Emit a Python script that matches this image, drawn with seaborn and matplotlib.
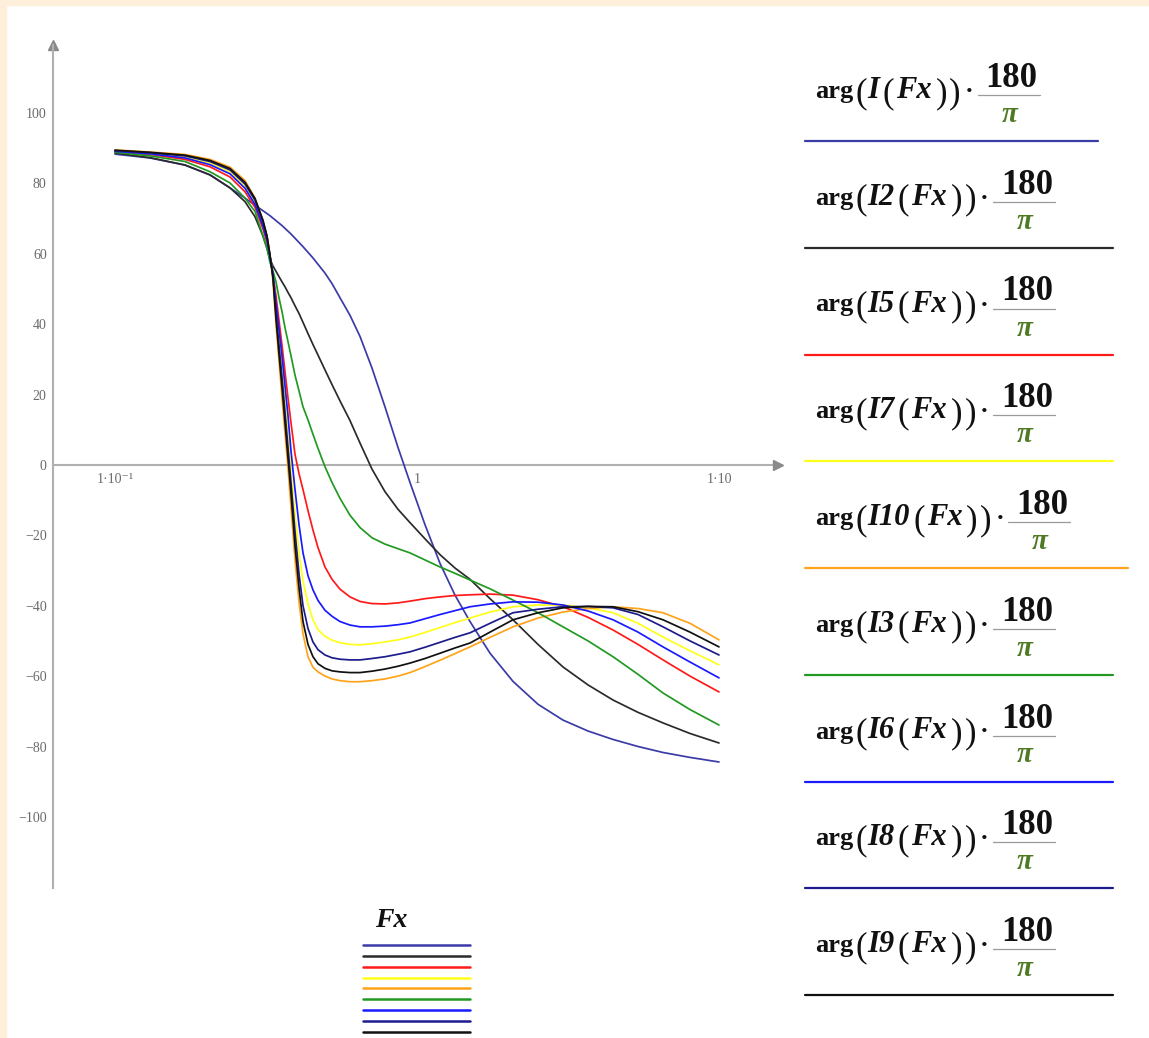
import numpy as np
import pandas as pd
import matplotlib
matplotlib.use("Agg")
import matplotlib.pyplot as plt
import seaborn as sns
from matplotlib.lines import Line2D
from matplotlib.patches import Rectangle
from matplotlib.ticker import FixedLocator, NullFormatter

# ---------------- data ----------------
freq = [0.1, 0.1306, 0.1705, 0.2063, 0.2404, 0.2694, 0.2908, 0.3091, 0.3187, 0.3261,
        0.3336, 0.3413, 0.3492, 0.3573, 0.3655, 0.3740, 0.3826, 0.3945, 0.4068, 0.4193,
        0.4356, 0.4524, 0.4701, 0.4958, 0.5232, 0.5559, 0.6000, 0.6476, 0.7096, 0.7834,
        0.8649, 0.9481, 1.063, 1.192, 1.336, 1.498, 1.745, 2.079, 2.516, 3.044,
        3.683, 4.458, 5.393, 6.525, 8.016, 10.0]

phase_I = [88.3, 87.2, 85.2, 82.4, 78.7, 75.8, 73.8, 72.2, 71.4, 70.8,
           70.1, 69.4, 68.7, 68.0, 67.2, 66.4, 65.6, 64.4, 63.2, 62.0,
           60.4, 58.8, 57.0, 54.5, 51.5, 47.5, 42.5, 36.5, 27.5, 16.5,
           5.0, -5.0, -17.0, -28.0, -37.0, -44.5, -53.5, -61.5, -68.0, -72.5,
           -75.6, -78.0, -80.0, -81.7, -83.1, -84.4]
phase_I2 = [88.6, 87.3, 85.2, 82.4, 78.7, 74.8, 70.5, 65.0, 61.5, 58.5,
            56.5, 55.0, 53.5, 52.0, 50.6, 49.0, 47.5, 45.2, 43.0, 40.5,
            37.3, 34.2, 31.2, 27.0, 22.8, 18.2, 12.6, 6.2, -1.2, -7.6,
            -12.6, -16.4, -21.0, -25.5, -29.3, -32.5, -38.0, -44.0, -51.0, -57.4,
            -62.5, -66.8, -70.3, -73.3, -76.3, -79.0]
phase_I3 = [88.8, 87.8, 86.2, 83.3, 80.1, 75.8, 72.0, 65.0, 61.5, 57.5,
            55.0, 52.0, 47.5, 43.5, 39.0, 35.0, 31.0, 25.5, 21.0, 16.5,
            12.8, 8.7, 4.7, -0.5, -5.0, -9.5, -14.3, -17.8, -20.7, -22.5,
            -23.8, -25.0, -27.0, -29.0, -30.8, -32.7, -35.2, -38.4, -42.0, -46.0,
            -50.0, -54.5, -59.5, -64.8, -69.5, -73.9]
phase_I5 = [89.0, 88.2, 86.8, 84.7, 81.8, 77.6, 73.2, 67.0, 63.2, 59.0,
            54.0, 48.0, 41.0, 34.0, 26.5, 19.0, 12.0, 3.0, -2.5, -7.0,
            -13.0, -18.5, -23.5, -29.0, -32.5, -35.3, -37.5, -38.8, -39.4, -39.5,
            -39.2, -38.7, -38.0, -37.5, -37.1, -36.9, -36.7, -37.0, -38.3, -40.3,
            -43.3, -46.9, -51.0, -55.4, -60.0, -64.5]
phase_I6 = [89.1, 88.4, 87.2, 85.3, 82.7, 78.6, 74.0, 67.8, 63.8, 59.2,
            54.0, 46.0, 38.5, 31.0, 22.5, 14.0, 4.0, -7.0, -17.0, -25.0,
            -31.5, -35.5, -38.5, -41.3, -43.0, -44.5, -45.5, -46.0, -46.0, -45.8,
            -45.4, -44.9, -43.7, -42.5, -41.4, -40.3, -39.5, -38.9, -39.0, -39.8,
            -41.5, -44.0, -47.5, -51.7, -56.0, -60.5]
phase_I7 = [89.2, 88.5, 87.5, 85.8, 83.3, 79.2, 74.6, 68.4, 64.3, 59.3,
            54.0, 44.5, 36.5, 29.0, 19.0, 9.0, -1.0, -14.0, -25.0, -33.0,
            -39.5, -44.0, -46.8, -48.7, -49.8, -50.5, -51.0, -51.1, -50.8, -50.3,
            -49.7, -48.9, -47.6, -46.2, -44.8, -43.5, -41.8, -40.3, -39.8, -39.8,
            -40.6, -42.0, -45.0, -48.9, -52.8, -56.8]
phase_I8 = [89.3, 88.7, 87.8, 86.2, 83.8, 79.8, 75.2, 69.0, 64.8, 59.4,
            53.5, 43.0, 34.0, 25.0, 15.0, 5.0, -5.0, -19.0, -31.0, -40.0,
            -46.5, -50.3, -52.5, -54.0, -54.8, -55.2, -55.4, -55.4, -55.0, -54.5,
            -53.8, -53.1, -51.8, -50.4, -49.0, -47.7, -45.0, -42.0, -41.0, -40.3,
            -40.2, -40.6, -42.5, -46.0, -50.0, -54.0]
phase_I9 = [89.4, 88.8, 88.0, 86.5, 84.2, 80.3, 75.7, 69.5, 65.0, 59.5,
            53.0, 41.5, 31.5, 22.0, 12.0, 2.0, -8.0, -23.0, -35.0, -44.5,
            -51.0, -54.5, -56.5, -57.8, -58.5, -58.8, -59.0, -59.0, -58.6, -58.0,
            -57.2, -56.3, -55.0, -53.5, -52.0, -50.6, -47.5, -44.0, -42.0, -40.6,
            -40.2, -40.3, -41.7, -44.0, -47.5, -51.7]
phase_I10 = [89.5, 88.9, 88.2, 86.8, 84.6, 80.8, 75.8, 69.3, 65.0, 59.5,
             52.0, 40.0, 29.5, 19.0, 9.0, -1.0, -12.0, -27.0, -39.0, -48.0,
             -54.5, -57.5, -58.8, -60.0, -60.8, -61.3, -61.6, -61.6, -61.3, -60.8,
             -60.0, -59.0, -57.3, -55.5, -53.6, -51.7, -49.0, -46.0, -43.5, -41.8,
             -40.8, -40.3, -40.8, -42.0, -45.0, -49.7]

series_names = ["I", "I2", "I5", "I7", "I10", "I3", "I6", "I8", "I9"]
series_values = [phase_I, phase_I2, phase_I5, phase_I7, phase_I10, phase_I3, phase_I6, phase_I8, phase_I9]
series_colors = ["#3b3ba8", "#2b2b2b", "#ff1a1a", "#ffff1a", "#ffa31a", "#229922", "#1a1aff", "#1c1c8c", "#111111"]

y_ticks = [-100, -80, -60, -40, -20, 0, 20, 40, 60, 80, 100]
x_ticks = [0.1, 1, 10]
x_tick_labels = ["1·10⁻¹", "1", "1·10"]
x_minor = [0.2, 0.3, 0.4, 0.5, 0.6, 0.7, 0.8, 0.9, 2, 3, 4, 5, 6, 7, 8, 9]

# ---------------- style ----------------
sns.set_theme(style="white")
SERIF = ["Liberation Serif", "DejaVu Serif"]
plt.rcParams["font.family"] = SERIF
plt.rcParams["axes.unicode_minus"] = True

W, H = 1149, 1038
fig = plt.figure(figsize=(W / 100, H / 100), dpi=100, facecolor="white")

def fx(px):
    return px / W

def fy(py):
    return 1 - py / H

# cream frame at top / left
cream = "#fdefd9"
fig.patches.append(Rectangle((0, fy(5)), 1, 5 / H, transform=fig.transFigure, color=cream, zorder=0))
fig.patches.append(Rectangle((0, 0), 6 / W, 1, transform=fig.transFigure, color=cream, zorder=0))

ax = fig.add_axes([53 / W, 1 - 888 / H, 725 / W, 843 / H])
ax.set_facecolor("none")

df = pd.DataFrame({
    "Fx": np.tile(freq, len(series_names)),
    "phase": np.concatenate(series_values),
    "series": np.repeat(series_names, len(freq)),
})
sns.lineplot(data=df, x="Fx", y="phase", hue="series", hue_order=series_names,
             palette=series_colors, estimator=None, sort=False, legend=False,
             linewidth=1.25, ax=ax)

ax.set_xscale("log")
ax.set_xlim(10 ** (-1 - 62 / 302), 10 ** (-1 + 663 / 302))
ax.set_ylim(-120.2, 119.3)
ax.set_xlabel("")
ax.set_ylabel("")

axis_gray = "#b0b0b0"
for s in ["top", "right"]:
    ax.spines[s].set_visible(False)
ax.spines["left"].set_color(axis_gray)
ax.spines["left"].set_linewidth(1.5)
ax.spines["bottom"].set_color(axis_gray)
ax.spines["bottom"].set_linewidth(1.5)
ax.spines["bottom"].set_position(("data", 0))
ax.spines["bottom"].set_zorder(0.5)

ax.set_xticks(x_ticks)
ax.set_xticklabels(x_tick_labels)
ax.xaxis.set_minor_locator(FixedLocator(x_minor))
ax.xaxis.set_minor_formatter(NullFormatter())
ax.set_yticks(y_ticks)
ax.set_yticklabels([str(v) if v >= 0 else "\u2212" + str(-v) for v in y_ticks])
ax.yaxis.set_minor_locator(FixedLocator([-120]))
ax.tick_params(axis="both", which="both", direction="inout", color=axis_gray,
               width=1.2, labelsize=10, labelcolor="#6a6a6a")
ax.tick_params(axis="both", which="major", length=7)
ax.tick_params(axis="both", which="minor", length=6)
ax.tick_params(axis="x", pad=2)
ax.tick_params(axis="y", pad=1)

# axis arrows
ax.plot([1], [0], marker=">", color="#8a8a8a", markersize=7, transform=ax.get_yaxis_transform(),
        clip_on=False, linestyle="none")
ax.plot([0], [1], marker="^", color="#8a8a8a", markersize=7, transform=ax.transAxes,
        clip_on=False, linestyle="none")

# ---------------- right legend ----------------
fig.canvas.draw()
renderer = fig.canvas.get_renderer()

def piece(x, y, txt, size, weight="bold", style="normal", color="#111111"):
    t = fig.text(fx(x), fy(y), txt, fontsize=size, fontweight=weight, fontstyle=style,
                 ha="left", va="baseline", color=color, family=SERIF)
    return t.get_window_extent(renderer).x1

ROW = 106.75
TXT = 19
ITA = 22
PAR = 25
for k, (name, col) in enumerate(zip(series_names, series_colors)):
    base = 98 + ROW * k
    x = 815
    x = piece(x, base, "arg", TXT)
    x = piece(x + 2, base + 4, "(", PAR, weight="normal")
    x = piece(x + 1, base, name, ITA, style="italic")
    x = piece(x + 3, base + 4, "(", PAR, weight="normal")
    x = piece(x + 2, base, "Fx", ITA, style="italic")
    x = piece(x + 4, base + 4, ")", PAR, weight="normal")
    x = piece(x + 2, base + 4, ")", PAR, weight="normal")
    x = piece(x + 4, base, "·", TXT)
    fl0, fl1 = x + 4, x + 66
    yl = base - 3
    fig.add_artist(Line2D([fx(fl0), fx(fl1)], [fy(yl), fy(yl)], transform=fig.transFigure,
                          color="#9a9a9a", linewidth=0.9))
    fig.text(fx((fl0 + fl1) / 2 + 3), fy(yl - 8), "180", fontsize=25, fontweight="bold",
             ha="center", va="baseline", color="#111111", family=SERIF)
    fig.text(fx((fl0 + fl1) / 2 + 1), fy(yl + 27), "π", fontsize=21, fontweight="bold",
             fontstyle="italic", ha="center", va="baseline", color="#4e7a24", family=SERIF)
    fig.add_artist(Line2D([fx(805), fx(fl1 + 58)], [fy(base + 43), fy(base + 43)],
                          transform=fig.transFigure, color=col, linewidth=1.6))

# ---------------- bottom "Fx" legend ----------------
fig.text(fx(375), fy(927), "Fx", fontsize=20, fontweight="bold", fontstyle="italic",
         ha="left", va="baseline", color="#111111", family=SERIF)
for k, col in enumerate(series_colors):
    yy = 945 + 10.85 * k
    fig.add_artist(Line2D([fx(363), fx(470)], [fy(yy), fy(yy)], transform=fig.transFigure,
                          color=col, linewidth=1.8))

fig.savefig("out.png", dpi=100, facecolor="white")
